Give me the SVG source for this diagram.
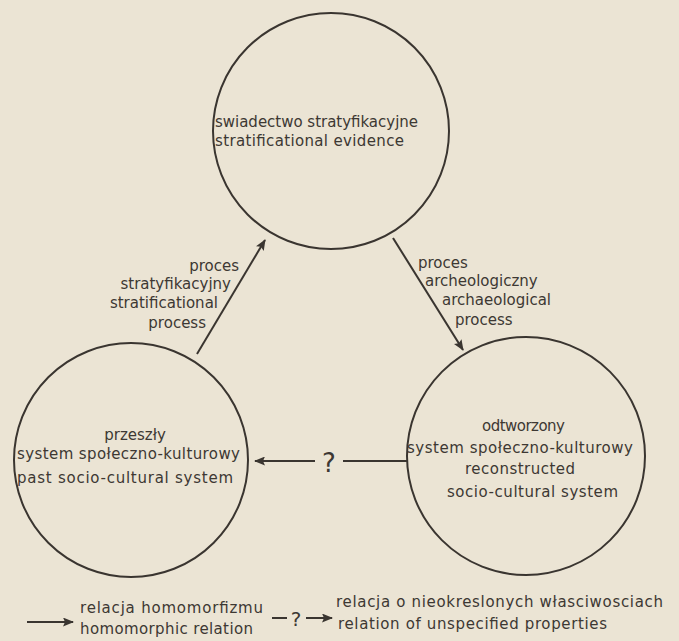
<svg xmlns="http://www.w3.org/2000/svg" width="679" height="641" viewBox="0 0 679 641">
<style>
.bg{fill:#ebe4d4}
.node{fill:none;stroke:#3a3530;stroke-width:2}
.t{font-family:"DejaVu Sans","Liberation Sans",sans-serif;font-size:15px;fill:#3d3833}
.edge{stroke:#3a3530;stroke-width:2;fill:none}
.q{font-family:"DejaVu Sans","Liberation Sans",sans-serif;fill:#3d3833}
</style>
<defs>
<marker id="ah" viewBox="0 0 11 9" refX="10" refY="4.5" markerWidth="11" markerHeight="9" markerUnits="userSpaceOnUse" orient="auto">
<path d="M0,0 L11,4.5 L0,9 L2,4.5 z" fill="#3a3530"/>
</marker>
</defs>
<rect class="bg" x="0" y="0" width="679" height="641"/>

<g id="node-evidence">
<circle class="node" cx="331" cy="131" r="118"/>
<text class="t" x="215" y="127" textLength="203" lengthAdjust="spacing">swiadectwo stratyfikacyjne</text>
<text class="t" x="215" y="146" textLength="189" lengthAdjust="spacing">stratificational evidence</text>
</g>

<g id="node-past">
<circle class="node" cx="131" cy="460" r="117"/>
<text class="t" x="135" y="440" text-anchor="middle">przeszły</text>
<text class="t" x="17" y="459" textLength="223" lengthAdjust="spacing">system społeczno-kulturowy</text>
<text class="t" x="17" y="483" textLength="216" lengthAdjust="spacing">past socio-cultural system</text>
</g>

<g id="node-reconstructed">
<circle class="node" cx="526" cy="456" r="119"/>
<text class="t" x="482" y="431" textLength="83" lengthAdjust="spacing">odtworzony</text>
<text class="t" x="407" y="453" textLength="226" lengthAdjust="spacing">system społeczno-kulturowy</text>
<text class="t" x="465" y="474" textLength="110" lengthAdjust="spacing">reconstructed</text>
<text class="t" x="447" y="497" textLength="171" lengthAdjust="spacing">socio-cultural system</text>
</g>

<g id="connectors">
<line class="edge" x1="197" y1="354" x2="265" y2="240" marker-end="url(#ah)"/>
<line class="edge" x1="393" y1="238" x2="463" y2="350" marker-end="url(#ah)"/>
<line class="edge" x1="408" y1="461" x2="343" y2="461"/>
<line class="edge" x1="315" y1="461" x2="255" y2="461" marker-end="url(#ah)"/>
<text class="q" x="329" y="472" font-size="26" text-anchor="middle">?</text>
</g>

<g id="labels">
<text class="t" x="239" y="271" text-anchor="end">proces</text>
<text class="t" x="231" y="289" text-anchor="end">stratyfikacyjny</text>
<text class="t" x="218" y="308" text-anchor="end">stratificational</text>
<text class="t" x="206" y="328" text-anchor="end">process</text>
<text class="t" x="418" y="268">proces</text>
<text class="t" x="425" y="286">archeologiczny</text>
<text class="t" x="442" y="305">archaeological</text>
<text class="t" x="455" y="325">process</text>
</g>

<g id="legend">
<line class="edge" x1="27" y1="622" x2="73" y2="622" marker-end="url(#ah)"/>
<text class="t" x="80" y="613" textLength="183" lengthAdjust="spacing">relacja homomorfizmu</text>
<text class="t" x="80" y="634" textLength="173" lengthAdjust="spacing">homomorphic relation</text>
<line class="edge" x1="272" y1="618" x2="287" y2="618"/>
<text class="q" x="296" y="626" font-size="20" text-anchor="middle">?</text>
<line class="edge" x1="306" y1="618" x2="332" y2="618" marker-end="url(#ah)"/>
<text class="t" x="336" y="607" textLength="327" lengthAdjust="spacing">relacja o nieokreslonych własciwosciach</text>
<text class="t" x="338" y="629" textLength="269" lengthAdjust="spacing">relation of unspecified properties</text>
</g>
</svg>
